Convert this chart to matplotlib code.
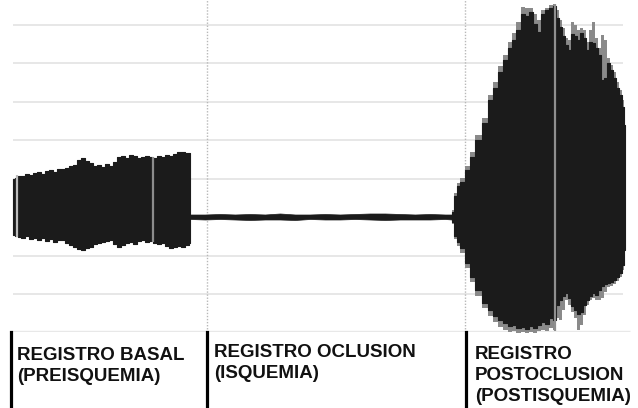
import matplotlib
matplotlib.use("Agg")
import matplotlib.pyplot as plt
from matplotlib.lines import Line2D

# ---------------- data (time in samples, amplitude in arbitrary units) ----------------
# Basal (pre-ischaemia) envelope
basal_t = [13, 16, 19, 23, 27, 31, 35, 39, 43, 47, 51, 55, 59, 63, 67, 71, 75, 79, 83, 87,
           91, 95, 99, 103, 107, 111, 115, 119, 123, 127, 131, 135, 139, 143, 147, 151, 155,
           159, 163, 167, 171, 175, 179, 183, 187, 190]
basal_top = [38, 39, 41, 41, 43, 42, 44, 45, 43, 46, 47, 45, 48, 48, 49, 51, 52, 57, 59, 56,
             54, 51, 52, 50, 53, 51, 55, 60, 61, 59, 62, 61, 59, 60, 61, 60, 59, 61, 60, 62,
             61, 63, 65, 65, 64, 64]
basal_bottom = [-18, -19, -20, -21, -19, -22, -21, -23, -21, -24, -22, -25, -23, -23, -26, -28,
                -30, -32, -33, -31, -30, -27, -26, -25, -24, -23, -27, -30, -28, -26, -25, -27,
                -24, -23, -25, -24, -26, -27, -26, -29, -31, -30, -29, -30, -28, -26]

# Occlusion (ischaemia) envelope
occl_t = [190, 205, 220, 235, 250, 265, 280, 295, 310, 325, 340, 355, 370, 385, 400, 415, 430, 445, 452]
occl_top = [2.5, 2.5, 3, 2.5, 3, 2.5, 3.5, 2.5, 2.5, 3, 2.5, 3, 3.5, 3.5, 3, 2.5, 3, 2.5, 2.5]
occl_bottom = [-2, -2.5, -2, -2.5, -3, -2.5, -2.5, -3, -2, -2.5, -2.5, -2, -2.5, -3, -2.5, -2.5, -2.5, -2, -2.5]

# Post-occlusion (post-ischaemia) envelope
post_t = [452, 455, 458, 462, 467, 472, 478, 485, 490, 495, 500, 505, 510, 514, 518, 523, 527,
          531, 535, 539, 543, 547, 551, 554, 557, 560, 563, 566, 569, 572, 575, 578, 581, 584,
          587, 590, 593, 596, 599, 602, 605, 608, 611, 614, 617, 620, 623, 625]
post_top = [5, 21, 31, 35, 47, 60, 77, 94, 117, 129, 145, 157, 169, 177, 187, 203, 201, 205,
            193, 185, 203, 207, 209, 211, 199, 190, 181, 172, 167, 183, 181, 177, 184, 179,
            167, 175, 174, 169, 162, 137, 139, 154, 147, 139, 129, 122, 110, 92]
post_top_outer = [7, 24, 34, 39, 51, 65, 82, 99, 122, 135, 151, 162, 175, 184, 195, 210, 209,
                  209, 203, 197, 207, 209, 212, 213, 207, 197, 189, 179, 177, 195, 192, 187,
                  189, 187, 175, 187, 195, 179, 169, 182, 177, 159, 152, 145, 135, 127, 117, 99]
post_bottom = [-5, -19, -25, -31, -46, -60, -73, -86, -93, -99, -103, -106, -109, -108, -111,
               -110, -112, -109, -111, -108, -105, -107, -101, -103, -88, -83, -79, -76, -81,
               -89, -93, -97, -95, -88, -83, -79, -76, -78, -73, -69, -67, -66, -65, -63, -60,
               -56, -48, -33]
post_bottom_outer = [-7, -22, -29, -36, -51, -65, -79, -91, -99, -105, -110, -113, -115, -114,
                     -116, -115, -116, -115, -116, -114, -113, -114, -111, -113, -101, -103, -93,
                     -83, -88, -95, -101, -113, -108, -98, -88, -83, -81, -83, -83, -81, -75,
                     -70, -69, -67, -64, -60, -53, -41]

# artefact stripes (time, low, high, colour)
stripes = [(17, -20, 42, "#bdbdbd"), (153, -25, 60, "#8c8c8c"), (555, -114, 213, "#8f8f8f")]

grid_levels = [-77, -38.5, 0, 38.5, 77, 115.5, 154, 192.5]
segment_bounds = [207, 465]

labels = [["REGISTRO BASAL", "(PREISQUEMIA)"],
          ["REGISTRO OCLUSION", "(ISQUEMIA)"],
          ["REGISTRO", "POSTOCLUSION", "(POSTISQUEMIA)"]]

# ---------------- figure ----------------
W, H = 638, 408
fig = plt.figure(figsize=(W / 100, H / 100), dpi=100)
fig.patch.set_facecolor("white")
ax = fig.add_axes([0, 76 / H, 1, 332 / H])
ax.set_xlim(0, W)
ax.set_ylim(-115, 217)
ax.axis("off")

for g in grid_levels:
    ax.hlines(g, 13, 623, color="#e5e5e5", lw=1.3, zorder=0)
ax.hlines(-114, 10, 630, color="#e8e8e8", lw=1.0, zorder=0)
ax.vlines(segment_bounds, -115, 217, colors="#b8b8b8", linestyles=(0, (1, 1.2)), lw=1.0, zorder=1)

sig = "#1b1b1b"
ax.fill_between(basal_t, basal_bottom, basal_top, step="mid", color=sig, lw=0.8, edgecolor=sig, zorder=3)
ax.fill_between(occl_t, occl_bottom, occl_top, color=sig, lw=0.5, edgecolor=sig, zorder=3)
ax.fill_between(post_t, post_bottom_outer, post_top_outer, step="mid", color="#8a8a8a", lw=0, zorder=2)
ax.fill_between(post_t, post_bottom, post_top, step="mid", color=sig, lw=0.8, edgecolor=sig, zorder=3)

for (x, lo, hi, c) in stripes:
    ax.vlines(x, lo, hi, colors=c, lw=1.6, zorder=4)

# ---------------- bottom labels ----------------
bar_x = [11, 207, 466]
text_x = [17, 214, 475]
first_baseline = [360, 357, 359]
line_step = 21
for bx in bar_x:
    fig.add_artist(Line2D([bx / W, bx / W], [0, 76 / H], color="black", lw=2.3,
                          transform=fig.transFigure))
for tx, yb, lines in zip(text_x, first_baseline, labels):
    for i, line in enumerate(lines):
        fig.text(tx / W, 1 - (yb + i * line_step) / H, line, va="baseline", ha="left",
                 fontsize=13.5, fontweight="bold", family="Liberation Sans", color="#111111")

fig.savefig("out.png", dpi=100, facecolor="white")
